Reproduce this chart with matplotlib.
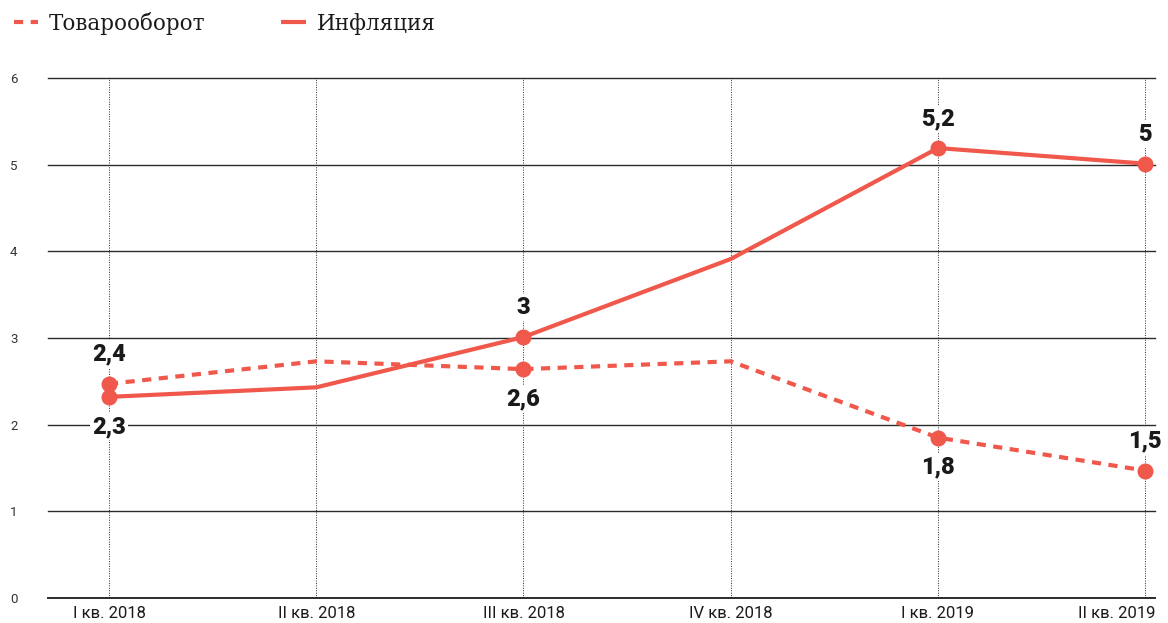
import matplotlib.pyplot as plt
import matplotlib.transforms as mtransforms
import numpy as np

# --- data ---
quarters = ["I кв. 2018", "II кв. 2018", "III кв. 2018", "IV кв. 2018", "I кв. 2019", "II кв. 2019"]
turnover = [2.47, 2.73, 2.64, 2.73, 1.85, 1.47]
inflation = [2.32, 2.43, 3.01, 3.91, 5.19, 5.01]

marked_idx = [0, 2, 4, 5]
turnover_labels = ["2,4", "2,6", "1,8", "1,5"]
turnover_side = ["above", "below", "below", "above"]
inflation_labels = ["2,3", "3", "5,2", "5"]
inflation_side = ["below", "above", "above", "above"]

red = '#ef584b'
grid_color = '#2b2b2b'
text_color = '#1a1a1a'

fig = plt.figure(figsize=(11.68, 6.23), dpi=100)
ax = fig.add_axes([0.041, 0.0401, 0.948, 0.835])

x = np.arange(len(quarters))

# grid
for yv in range(0, 7):
    ax.axhline(yv, color=grid_color, lw=1.0 if yv else 1.4, zorder=1, clip_on=False)
for xv in x:
    ax.plot([xv, xv], [0, 6], color=grid_color, lw=0.7, ls=(0, (1, 1.5)), zorder=1)

ax.plot(x, turnover, color=red, lw=3, ls=(0, (2.2, 1.8)), zorder=3, label="Товарооборот")
ax.plot(x, inflation, color=red, lw=3, zorder=3, solid_capstyle='butt', label="Инфляция")
ax.plot(x[marked_idx], np.array(turnover)[marked_idx], 'o', color=red, ms=10.5, zorder=4)
ax.plot(x[marked_idx], np.array(inflation)[marked_idx], 'o', color=red, ms=10.5, zorder=4)

def put_labels(values, labels, sides):
    for i, lab, side in zip(marked_idx, labels, sides):
        off = 13 if side == "above" else -13
        ax.annotate(lab, (x[i], values[i]), xytext=(0, off), textcoords='offset points',
                    ha='center', va='bottom' if side == "above" else 'top',
                    fontsize=17, fontweight='black', family='Roboto', color=text_color, zorder=5,
                    bbox=dict(boxstyle='square,pad=0.1', fc='white', ec='none'))

put_labels(turnover, turnover_labels, turnover_side)
put_labels(inflation, inflation_labels, inflation_side)

ax.set_xlim(-0.295, 5.048)
ax.set_ylim(0, 6)
ax.set_xticks(x)
ax.set_xticklabels(quarters, fontsize=12, family='Roboto', color=text_color)
ax.set_yticks(range(0, 7))
ax.set_yticklabels([str(v) for v in range(0, 7)], fontsize=9.5, family='Roboto', color='#333333')
ax.tick_params(axis='both', length=0)
ax.tick_params(axis='x', pad=6)
ax.tick_params(axis='y', pad=22)
for s in ax.spines.values():
    s.set_visible(False)

# last x label sits flush with the right edge
last = ax.get_xticklabels()[-1]
last.set_ha('right')
last.set_transform(last.get_transform() + mtransforms.ScaledTranslation(10 / 100, 0, fig.dpi_scale_trans))

leg = fig.legend(loc='upper left', bbox_to_anchor=(-0.005, 1.012), ncol=2, frameon=False,
                 handlelength=1.15, handletextpad=0.5, columnspacing=3.5,
                 prop={'family': 'DejaVu Serif', 'size': 15.5})
for t in leg.get_texts():
    t.set_color(text_color)

fig.savefig('out.png', dpi=100, facecolor='white')
